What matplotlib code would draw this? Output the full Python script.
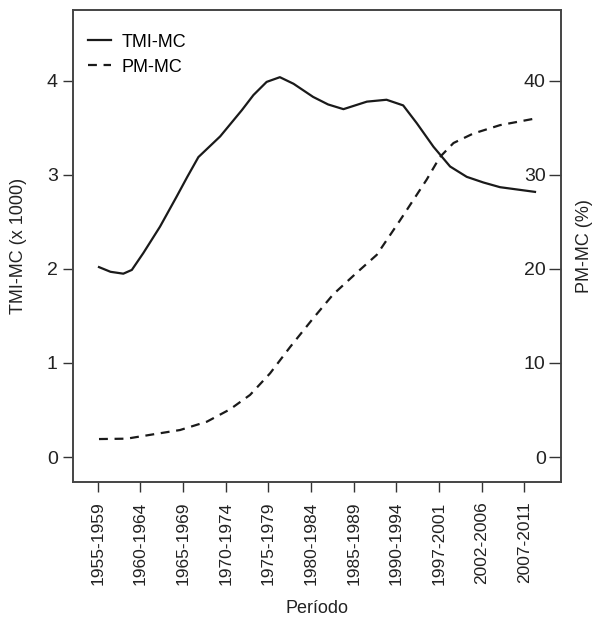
import matplotlib
matplotlib.use("Agg")
import matplotlib.pyplot as plt

plt.rcParams['font.family'] = ['Liberation Sans Narrow', 'Liberation Sans', 'DejaVu Sans']

periods = ["1955-1959", "1960-1964", "1965-1969", "1970-1974", "1975-1979",
           "1980-1984", "1985-1989", "1990-1994", "1997-2001", "2002-2006",
           "2007-2011"]

# TMI-MC (x 1000) (x in period-index units)
tmi_x = [0.03, 0.3, 0.6, 0.8, 1.07, 1.46, 1.85, 2.1, 2.36, 2.87, 3.38, 3.65,
         3.96, 4.27, 4.59, 5.05, 5.4, 5.76, 6.31, 6.77, 7.16, 7.48, 7.87,
         8.26, 8.65, 9.04, 9.43, 10.25]
tmi_y = [2.02, 1.97, 1.95, 1.99, 2.17, 2.45, 2.77, 2.98, 3.19, 3.41, 3.69, 3.85,
         3.99, 4.04, 3.97, 3.83, 3.75, 3.70, 3.78, 3.80, 3.74, 3.55, 3.30,
         3.09, 2.98, 2.92, 2.87, 2.82]

# PM-MC (%)
pm_x = [0.03, 0.68, 1.30, 1.93, 2.56, 3.10, 3.57, 4.04, 4.51, 5.05, 5.52,
        6.07, 6.54, 7.09, 7.71, 8.02, 8.34, 8.80, 9.43, 10.25]
pm_y = [1.91, 1.95, 2.41, 2.87, 3.76, 5.07, 6.6, 8.9, 11.7, 14.75, 17.3,
        19.6, 21.5, 25.2, 29.5, 31.9, 33.4, 34.4, 35.3, 36.0]

fig = plt.figure(figsize=(5.95, 6.23), dpi=100)
ax = fig.add_axes([0.1227, 0.2263, 0.8202, 0.7577])
ax2 = ax.twinx()

l1, = ax.plot(tmi_x, tmi_y, color="#1a1a1a", lw=1.6, solid_joinstyle="round")
l2, = ax2.plot(pm_x, pm_y, color="#1a1a1a", lw=1.6, linestyle=(0, (4, 3)))

ax.set_xlim(-0.579, 10.86)
ax.set_ylim(-0.266, 4.755)
ax2.set_ylim(-2.66, 47.55)

ax.set_xticks(range(len(periods)))
ax.set_xticklabels(periods, rotation=90, fontsize=12.5)
ax.set_yticks([0, 1, 2, 3, 4])
ax.tick_params(axis="x", length=7, width=1, pad=7, colors="#333333", labelcolor="#222222")
ax.tick_params(axis="y", length=7, width=1, pad=4, colors="#333333", labelcolor="#222222", labelsize=14)

ax2.set_yticks([0, 10, 20, 30, 40])
ax2.tick_params(axis="y", direction="in", length=9, width=1, pad=-11,
                colors="#333333", labelcolor="#222222", labelsize=14)
for lab in ax2.get_yticklabels():
    lab.set_horizontalalignment("right")

for a in (ax, ax2):
    for s in a.spines.values():
        s.set_color("#444444")
        s.set_linewidth(1.2)

ax.set_ylabel("TMI-MC (x 1000)", fontsize=13, color="#222222", labelpad=14)
ax2.set_ylabel("PM-MC (%)", fontsize=13, color="#222222", labelpad=11)
ax.set_xlabel("Período", fontsize=13, color="#222222", labelpad=11)

ax.legend([l1, l2], ["TMI-MC", "PM-MC"], loc="upper left",
          bbox_to_anchor=(0.03, 0.95), frameon=False, fontsize=13,
          handlelength=1.3, handletextpad=0.6, labelspacing=0.45, borderpad=0,
          borderaxespad=0)

fig.savefig("out.png", dpi=100)
